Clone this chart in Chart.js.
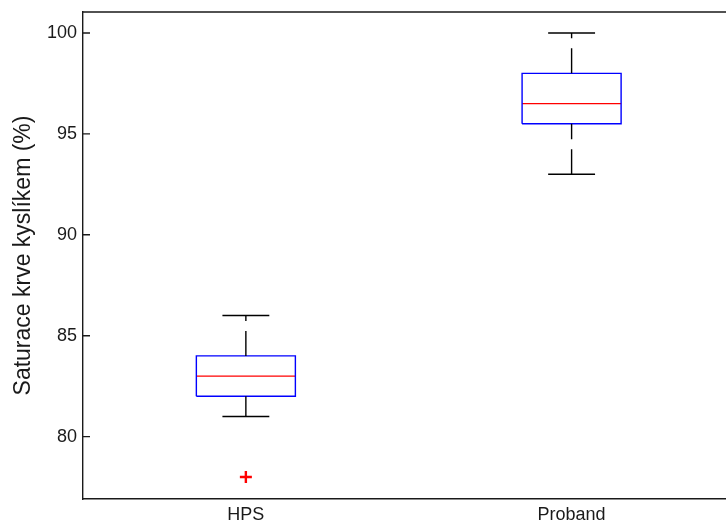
<!DOCTYPE html>
<html>
<head>
<meta charset="utf-8">
<script src="https://cdn.jsdelivr.net/npm/chart.js@4.4.1/dist/chart.umd.min.js"></script>
<style>
  html, body { margin: 0; padding: 0; background: #fff; }
  #wrap { width: 726px; height: 523px; }
</style>
</head>
<body>
<div id="wrap"><canvas id="chart"></canvas></div>
<script>
const categories = ["HPS", "Proband"];
const whiskerLow = [81, 93];
const quart1 = [82, 95.5];
const medians = [83, 96.5];
const quart3 = [84, 98];
const whiskerHigh = [86, 100];
const outliers = [[78], []];
const yTicks = [80, 85, 90, 95, 100];

const BOX_HALF = 0.152;
const CAP_HALF = 0.072;
const FONT = "'Liberation Sans', Arial, sans-serif";

function lineSet(points, color, dash) {
  return {
    data: points,
    showLine: true,
    borderColor: color,
    borderWidth: 1.4,
    borderDash: dash || [],
    pointRadius: 0,
    tension: 0,
    fill: false
  };
}

const datasets = [];
categories.forEach((name, i) => {
  // whiskers, drawn from box outward (upper) and from lower end to box (lower)
  datasets.push(lineSet([{ x: i, y: quart3[i] }, { x: i, y: whiskerHigh[i] }], "#000", [25, 10]));
  datasets.push(lineSet([{ x: i, y: whiskerLow[i] }, { x: i, y: quart1[i] }], "#000", [25, 10]));
  // caps
  datasets.push(lineSet([{ x: i - CAP_HALF, y: whiskerHigh[i] }, { x: i + CAP_HALF, y: whiskerHigh[i] }], "#000"));
  datasets.push(lineSet([{ x: i - CAP_HALF, y: whiskerLow[i] }, { x: i + CAP_HALF, y: whiskerLow[i] }], "#000"));
  // box
  datasets.push(lineSet([
    { x: i - BOX_HALF, y: quart1[i] },
    { x: i + BOX_HALF, y: quart1[i] },
    { x: i + BOX_HALF, y: quart3[i] },
    { x: i - BOX_HALF, y: quart3[i] },
    { x: i - BOX_HALF, y: quart1[i] }
  ], "#0000ff"));
  // median
  datasets.push(lineSet([{ x: i - BOX_HALF, y: medians[i] }, { x: i + BOX_HALF, y: medians[i] }], "#ff0000"));
  // outliers
  if (outliers[i].length) {
    datasets.push({
      data: outliers[i].map(v => ({ x: i, y: v })),
      showLine: false,
      pointStyle: "cross",
      pointRadius: 6,
      borderColor: "#ff0000",
      borderWidth: 2.4
    });
  }
});

const frame = {
  id: "frame",
  afterDraw(chart) {
    const { ctx, chartArea } = chart;
    const y = chart.scales.y;
    ctx.save();
    ctx.strokeStyle = "#1a1a1a";
    ctx.lineWidth = 1.4;
    ctx.beginPath();
    ctx.moveTo(chartArea.left, chartArea.top);
    ctx.lineTo(chartArea.right, chartArea.top);
    yTicks.forEach(v => {
      const py = y.getPixelForValue(v);
      ctx.moveTo(chartArea.left, py);
      ctx.lineTo(chartArea.left + 7, py);
    });
    ctx.stroke();
    ctx.restore();
  }
};

new Chart(document.getElementById("chart"), {
  type: "scatter",
  data: { datasets },
  options: {
    responsive: true,
    maintainAspectRatio: false,
    animation: false,
    layout: { autoPadding: false, padding: { top: 12, right: 0, bottom: 0, left: 0 } },
    plugins: { legend: { display: false }, tooltip: { enabled: false } },
    scales: {
      x: {
        type: "linear",
        min: -0.5,
        max: 1.474,
        grid: { display: false, drawTicks: false },
        border: { display: true, color: "#1a1a1a", width: 1.4 },
        afterBuildTicks: s => { s.ticks = categories.map((c, i) => ({ value: i })); },
        afterFit: s => { s.height = 24; s.paddingLeft = 0; s.paddingRight = 0; },
        ticks: {
          padding: 5,
          color: "#1a1a1a",
          font: { family: FONT, size: 18 },
          callback: v => categories[v]
        }
      },
      y: {
        min: 76.91,
        max: 101.04,
        grid: { display: false, drawTicks: false },
        border: { display: true, color: "#1a1a1a", width: 1.4 },
        afterBuildTicks: s => { s.ticks = yTicks.map(v => ({ value: v })); },
        afterFit: s => { s.width = 83; s.paddingTop = 0; s.paddingBottom = 0; },
        ticks: {
          padding: 6,
          color: "#1a1a1a",
          font: { family: FONT, size: 18 }
        },
        title: {
          display: true,
          text: "Saturace krve kyslíkem (%)",
          color: "#1a1a1a",
          font: { family: FONT, size: 23 },
          padding: { top: 10, bottom: 0 }
        }
      }
    }
  },
  plugins: [frame]
});
</script>
</body>
</html>
